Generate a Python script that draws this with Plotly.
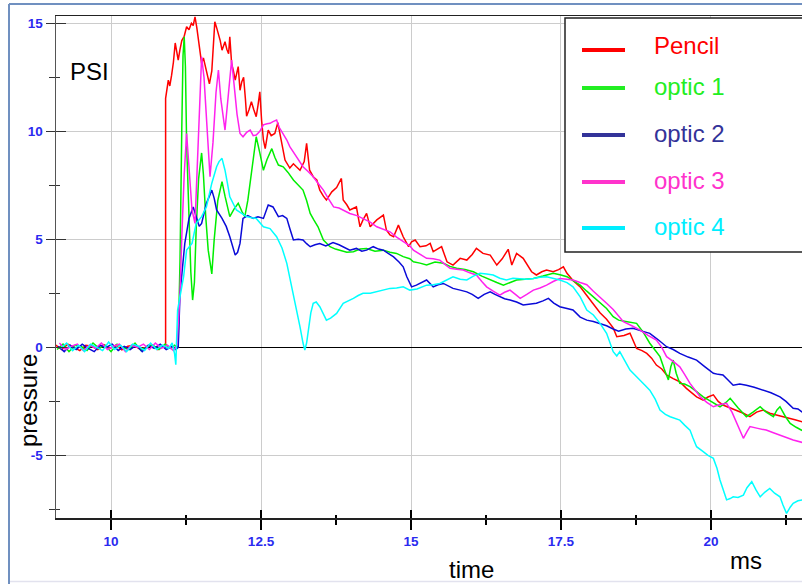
import plotly.graph_objects as go

# ---------------- data ----------------
names = ["Pencil", "optic 1", "optic 2", "optic 3", "optic 4"]
line_colors = ["#ff0000", "#00ee00", "#0a0ad8", "#ff22ee", "#00ffff"]
legend_colors = ["#ff0000", "#22ee22", "#333399", "#ff33cc", "#00eeff"]

x_ticks = [10, 12.5, 15, 17.5, 20]
x_tick_labels = ["10", "12.5", "15", "17.5", "20"]
x_minor = [11.25, 13.75, 16.25, 18.75, 21.25]
y_ticks = [15, 10, 5, 0, -5]
y_tick_labels = ["15", "10", "5", "0", "-5"]
y_minor = [12.5, 7.5, 2.5, -2.5, -7.5]

t_pencil = [9.08, 9.18, 9.28, 9.38, 9.48, 9.58, 9.68, 9.78, 9.88, 9.98, 10.08, 10.18, 10.28, 10.38, 10.48,
            10.58, 10.68, 10.78, 10.88, 10.91,
            10.91, 10.955, 10.98, 11.01, 11.04, 11.07, 11.1, 11.12, 11.15, 11.18, 11.22, 11.26, 11.3, 11.34,
            11.37, 11.40, 11.43, 11.46, 11.51, 11.54, 11.57, 11.6, 11.64, 11.68, 11.71, 11.73, 11.76, 11.79,
            11.82, 11.85, 11.88, 11.90, 11.93, 11.96, 11.98, 12.01, 12.04, 12.07, 12.12, 12.15, 12.18, 12.21,
            12.24, 12.26, 12.3, 12.34, 12.38, 12.42, 12.45, 12.48, 12.51, 12.54, 12.57, 12.62, 12.67, 12.73,
            12.78, 12.84, 12.9, 12.98, 13.04, 13.09, 13.15, 13.22, 13.26, 13.31, 13.37, 13.43, 13.48, 13.54,
            13.59, 13.68, 13.76, 13.84, 13.87, 13.93, 13.98, 14.09, 14.15, 14.2, 14.26, 14.32, 14.43, 14.54,
            14.59, 14.65, 14.71, 14.79, 14.87, 14.96, 15.01, 15.07, 15.15, 15.25, 15.32, 15.37, 15.45, 15.51,
            15.6, 15.7, 15.82, 15.93, 16.02, 16.09, 16.2, 16.32, 16.43, 16.52, 16.62, 16.68, 16.76, 16.87,
            17.01, 17.09, 17.18, 17.26, 17.37, 17.46, 17.54, 17.6, 17.7, 17.82, 17.93, 18.04, 18.15, 18.26,
            18.37, 18.43, 18.55, 18.65, 18.76, 18.85, 18.93, 19.01, 19.09, 19.18, 19.26, 19.37, 19.48, 19.59,
            19.68, 19.76, 19.87, 19.95, 20.04, 20.12, 20.2, 20.32, 20.43, 20.54, 20.65, 20.76, 20.87, 20.98,
            21.09, 21.2, 21.32, 21.4, 21.52]
p_pencil = [0.1, -0.1, 0.15, 0.0, -0.15, 0.1, 0.05, -0.1, 0.12, -0.05, 0.1, -0.12, 0.05, 0.1, -0.08,
            0.0, 0.12, -0.1, 0.05, 0.05,
            11.53, 12.37, 12.1, 12.6, 13.2, 14.09, 13.5, 13.3, 13.8, 14.2, 14.4, 14.84, 14.7, 15.0,
            14.9, 15.3, 14.8, 14.07, 13.15, 13.4, 13.0, 12.7, 12.2, 12.8, 14.2, 15.07, 14.8, 14.5,
            14.2, 13.76, 14.0, 14.15, 13.8, 13.6, 14.38, 13.15, 12.8, 12.37, 13.0, 11.9, 12.3, 12.5,
            11.5, 10.7, 11.0, 11.37, 11.0, 10.68, 11.2, 11.83, 10.5, 9.6, 9.2, 10.06, 9.8, 9.9,
            10.4, 9.6, 8.67, 8.3, 8.5, 8.36, 8.2, 8.6, 9.44, 8.2, 7.9, 7.75, 7.28, 7.0,
            6.82, 7.2, 7.4, 7.82, 6.82, 6.6, 6.36, 6.5, 5.58, 5.9, 6.2, 5.58, 5.9, 6.12,
            5.43, 5.2, 5.12, 5.66, 5.12, 4.66, 4.89, 4.97, 4.66, 4.7, 4.81, 4.43, 4.55, 4.66,
            3.96, 3.81, 4.12, 4.04, 4.3, 4.58, 4.35, 4.27, 3.81, 4.1, 4.54, 3.81, 4.35, 4.12,
            3.5, 3.35, 3.5, 3.58, 3.5, 3.6, 3.73, 3.43, 3.1, 2.8, 2.4, 2.0, 1.6, 1.3,
            0.9, 0.49, 0.55, 0.65, -0.05, -0.15, -0.28, -0.5, -0.82, -1.0, -1.28, -1.45, -1.59, -1.9,
            -2.1, -2.29, -2.44, -2.3, -2.2, -2.5, -2.67, -2.8, -2.9, -3.05, -3.21, -3.0, -2.9, -3.05,
            -3.13, -3.2, -3.29, -3.35, -3.45]

t_optic1 = [9.1, 9.2, 9.3, 9.4, 9.5, 9.6, 9.7, 9.8, 9.9, 10.0, 10.1, 10.2, 10.3, 10.4, 10.5, 10.6, 10.7,
            10.8, 10.9, 11.0, 11.06, 11.1,
            11.12, 11.15, 11.18, 11.2, 11.22, 11.24, 11.26, 11.3, 11.33, 11.36, 11.39, 11.42, 11.46, 11.51,
            11.54, 11.58, 11.62, 11.68, 11.72, 11.78, 11.85, 11.9, 11.98, 12.05, 12.12, 12.18, 12.23, 12.28,
            12.32, 12.37, 12.42, 12.48, 12.54, 12.6, 12.68, 12.73, 12.79, 12.87, 12.95, 13.04, 13.12, 13.2,
            13.26, 13.32, 13.38, 13.45, 13.54, 13.65, 13.74, 13.82, 13.93, 14.04, 14.15, 14.26, 14.4, 14.54,
            14.65, 14.76, 14.87, 14.98, 15.04, 15.15, 15.26, 15.4, 15.54, 15.65, 15.76, 15.9, 16.04, 16.18,
            16.32, 16.43, 16.54, 16.65, 16.76, 16.9, 17.04, 17.2, 17.37, 17.5, 17.6, 17.72, 17.82, 17.93,
            18.04, 18.15, 18.26, 18.37, 18.46, 18.58, 18.67, 18.76, 18.87, 18.98, 19.06, 19.15, 19.22, 19.29,
            19.33, 19.37, 19.42, 19.48, 19.56, 19.65, 19.76, 19.87, 20.0, 20.15, 20.25, 20.32, 20.45, 20.59,
            20.7, 20.82, 20.92, 21.04, 21.1, 21.15, 21.24, 21.32, 21.42, 21.52]
p_optic1 = [-0.1, 0.15, -0.2, 0.1, 0.05, -0.15, 0.2, -0.05, 0.1, -0.2, 0.15, 0.0, -0.1, 0.2, -0.15, 0.05, 0.1,
            -0.1, 0.15, -0.05, 0.1, 0.0,
            0.2, 4.0, 10.2, 13.5, 14.38, 13.0, 9.45, 6.0, 3.5, 2.19, 3.0, 5.5, 7.8, 9.0,
            8.0, 6.0, 4.5, 3.4, 5.0, 6.8, 7.67, 7.0, 6.05, 6.4, 6.67, 6.3, 6.05, 6.8,
            7.6, 8.8, 9.75, 9.0, 8.2, 8.7, 9.2, 8.8, 8.44, 8.36, 8.1, 7.75, 7.5, 7.28,
            6.8, 6.2, 5.9, 5.58, 4.97, 4.66, 4.55, 4.5, 4.4, 4.43, 4.55, 4.58, 4.45, 4.5,
            4.4, 4.35, 4.2, 4.1, 3.96, 3.9, 3.81, 3.95, 3.89, 3.75, 3.66, 3.6, 3.5, 3.3,
            3.12, 3.0, 2.88, 3.0, 3.12, 3.15, 3.19, 3.3, 3.43, 3.35, 3.27, 3.05, 2.88, 2.6,
            2.34, 2.05, 1.8, 1.42, 1.26, 1.2, 1.15, 1.11, 0.7, 0.19, -0.1, -0.43, -1.0, -1.51,
            -0.9, -0.59, -1.2, -1.67, -1.7, -1.82, -2.05, -2.29, -2.5, -2.75, -2.55, -2.36, -2.8, -3.21,
            -3.0, -2.75, -3.0, -3.21, -2.9, -2.75, -3.2, -3.52, -3.7, -3.85]

t_optic2 = [9.12, 9.22, 9.32, 9.42, 9.52, 9.62, 9.72, 9.82, 9.92, 10.02, 10.12, 10.22, 10.32, 10.42, 10.52,
            10.62, 10.72, 10.82, 10.92, 11.02, 11.08, 11.12,
            11.15, 11.19, 11.23, 11.3, 11.37, 11.42, 11.47, 11.51, 11.55, 11.59, 11.64, 11.68, 11.72, 11.76,
            11.85, 11.92, 11.98, 12.03, 12.07, 12.11, 12.15, 12.2, 12.28, 12.37, 12.45, 12.54, 12.58, 12.62,
            12.7, 12.79, 12.86, 12.93, 12.98, 13.04, 13.12, 13.2, 13.26, 13.32, 13.4, 13.48, 13.58, 13.7,
            13.8, 13.87, 13.98, 14.09, 14.18, 14.26, 14.37, 14.46, 14.54, 14.62, 14.71, 14.8, 14.87, 14.93,
            14.98, 15.01, 15.09, 15.18, 15.26, 15.37, 15.45, 15.54, 15.62, 15.7, 15.82, 15.93, 16.02, 16.12,
            16.22, 16.32, 16.4, 16.48, 16.56, 16.65, 16.76, 16.87, 16.98, 17.09, 17.2, 17.29, 17.38, 17.48,
            17.6, 17.7, 17.82, 17.93, 18.04, 18.15, 18.26, 18.37, 18.46, 18.58, 18.7, 18.85, 18.98, 19.12,
            19.26, 19.37, 19.48, 19.62, 19.76, 19.9, 20.04, 20.12, 20.2, 20.28, 20.37, 20.48, 20.59, 20.72,
            20.87, 21.0, 21.15, 21.25, 21.37, 21.45, 21.52]
p_optic2 = [0.05, -0.2, 0.1, -0.1, 0.15, -0.05, -0.2, 0.1, 0.0, 0.15, -0.15, 0.05, -0.1, 0.1, -0.2,
            0.1, -0.05, 0.15, -0.1, 0.05, -0.1, 0.0,
            2.5, 3.8, 4.81, 5.97, 6.5, 6.05, 5.6, 5.74, 6.2, 6.67, 7.0, 7.28, 6.9, 6.36,
            5.97, 5.6, 5.12, 4.6, 4.27, 4.4, 4.81, 5.97, 6.1, 5.97, 6.05, 5.97, 6.3, 6.59,
            6.5, 6.05, 6.1, 5.97, 5.5, 4.97, 5.0, 4.97, 4.8, 4.66, 4.75, 4.81, 4.7, 4.85,
            4.75, 4.66, 4.5, 4.58, 4.45, 4.5, 4.66, 4.55, 4.5, 4.35, 4.19, 3.95, 3.73, 3.27,
            3.0, 2.8, 2.88, 3.0, 3.12, 2.8, 2.9, 2.96, 2.85, 2.73, 2.65, 2.57, 2.45, 2.27,
            2.45, 2.57, 2.45, 2.34, 2.25, 2.19, 2.1, 1.96, 2.0, 2.04, 2.15, 2.27, 2.05, 1.88,
            1.8, 1.73, 1.4, 1.26, 1.2, 1.11, 1.0, 0.85, 0.75, 0.85, 0.88, 0.75, 0.65, 0.35,
            0.03, -0.1, -0.28, -0.45, -0.59, -0.9, -1.2, -1.25, -1.28, -1.5, -1.75, -1.7, -1.75, -1.85,
            -1.98, -2.1, -2.29, -2.5, -2.82, -2.85, -3.0]

t_optic3 = [9.14, 9.24, 9.34, 9.44, 9.54, 9.64, 9.74, 9.84, 9.94, 10.04, 10.14, 10.24, 10.34, 10.44, 10.54,
            10.64, 10.74, 10.84, 10.94, 11.04, 11.1,
            11.15, 11.18, 11.22, 11.26, 11.3, 11.35, 11.4, 11.44, 11.48, 11.51, 11.55, 11.6, 11.65, 11.7,
            11.75, 11.79, 11.83, 11.9, 11.95, 12.01, 12.05, 12.1, 12.15, 12.2, 12.26, 12.32, 12.37, 12.42,
            12.48, 12.54, 12.6, 12.65, 12.7, 12.76, 12.8, 12.87, 12.93, 12.98, 13.04, 13.09, 13.15, 13.2,
            13.28, 13.37, 13.45, 13.54, 13.62, 13.71, 13.8, 13.87, 13.98, 14.1, 14.2, 14.32, 14.43, 14.54,
            14.65, 14.76, 14.87, 14.98, 15.04, 15.15, 15.26, 15.37, 15.48, 15.56, 15.65, 15.76, 15.87, 15.98,
            16.09, 16.18, 16.26, 16.37, 16.48, 16.56, 16.65, 16.74, 16.82, 16.93, 17.04, 17.15, 17.26, 17.37,
            17.48, 17.6, 17.7, 17.82, 17.93, 18.04, 18.15, 18.26, 18.37, 18.46, 18.54, 18.68, 18.82, 18.95,
            19.09, 19.18, 19.26, 19.37, 19.48, 19.56, 19.65, 19.74, 19.82, 19.93, 20.04, 20.15, 20.26, 20.35,
            20.43, 20.5, 20.54, 20.6, 20.65, 20.78, 20.92, 21.04, 21.15, 21.26, 21.37, 21.52]
p_optic3 = [0.2, -0.1, 0.05, 0.15, -0.15, 0.1, -0.05, 0.2, -0.1, 0.05, 0.15, -0.2, 0.1, 0.0, 0.15,
            -0.1, 0.2, -0.05, 0.1, -0.15, 0.1,
            2.5, 5.12, 8.0, 9.9, 8.5, 6.36, 5.74, 8.5, 12.0, 13.45, 12.5, 10.0, 7.9, 9.5,
            11.8, 12.84, 11.5, 10.06, 11.5, 13.3, 12.2, 10.8, 9.9, 9.75, 9.95, 10.06, 9.8, 9.83,
            10.0, 10.3, 10.35, 10.37, 10.45, 10.52, 10.2, 9.9, 9.6, 9.29, 9.05, 8.82, 8.6, 8.36,
            8.15, 7.9, 7.6, 7.28, 6.9, 6.5, 6.45, 6.36, 6.2, 6.1, 5.97, 5.8, 5.58, 5.45,
            5.35, 5.1, 4.89, 4.7, 4.5, 4.3, 4.12, 4.1, 4.04, 3.85, 3.66, 3.62, 3.58, 3.45,
            3.35, 3.05, 2.8, 2.6, 2.42, 2.55, 2.65, 2.45, 2.27, 2.45, 2.65, 2.75, 2.88, 3.05,
            3.19, 3.15, 3.12, 3.0, 2.9, 2.6, 2.34, 2.04, 1.75, 1.45, 1.19, 1.0, 0.8, 0.55,
            0.34, 0.0, -0.43, -0.65, -0.9, -1.25, -1.67, -2.0, -2.29, -2.55, -2.75, -2.65, -2.59, -3.0,
            -3.52, -3.9, -4.21, -3.9, -3.67, -3.75, -3.83, -3.95, -4.06, -4.15, -4.29, -4.4]

t_optic4 = [9.16, 9.26, 9.36, 9.46, 9.56, 9.66, 9.76, 9.86, 9.96, 10.06, 10.16, 10.26, 10.36, 10.46, 10.56,
            10.66, 10.76, 10.86, 10.96, 11.02, 11.06, 11.08,
            11.11, 11.16, 11.21, 11.26, 11.35, 11.42, 11.51, 11.59, 11.68, 11.76, 11.8, 11.85, 11.9, 11.94,
            11.98, 12.09, 12.18, 12.26, 12.34, 12.42, 12.54, 12.65, 12.76, 12.85, 12.93, 13.04, 13.15, 13.2,
            13.23, 13.26, 13.29, 13.33, 13.37, 13.42, 13.48, 13.54, 13.59, 13.66, 13.76, 13.87, 13.96, 14.04,
            14.12, 14.2, 14.32, 14.43, 14.54, 14.65, 14.76, 14.87, 14.98, 15.1, 15.26, 15.37, 15.48, 15.6,
            15.7, 15.82, 15.93, 16.04, 16.15, 16.26, 16.37, 16.48, 16.59, 16.7, 16.82, 16.93, 17.04, 17.15,
            17.26, 17.37, 17.48, 17.6, 17.7, 17.82, 17.93, 18.04, 18.15, 18.26, 18.37, 18.43, 18.48, 18.56,
            18.65, 18.74, 18.82, 18.9, 18.98, 19.07, 19.15, 19.24, 19.32, 19.4, 19.48, 19.56, 19.65, 19.7,
            19.76, 19.87, 19.95, 20.04, 20.1, 20.15, 20.2, 20.26, 20.32, 20.37, 20.45, 20.54, 20.6, 20.68,
            20.75, 20.82, 20.9, 20.98, 21.06, 21.15, 21.2, 21.26, 21.32, 21.37, 21.45, 21.52]
p_optic4 = [-0.05, 0.2, -0.15, 0.1, -0.2, 0.15, 0.0, -0.15, 0.25, -0.1, 0.1, -0.2, 0.15, 0.05, -0.15,
            0.2, -0.1, 0.1, -0.05, 0.2, -0.3, -0.8,
            1.73, 2.5, 3.27, 4.5, 4.81, 5.74, 6.05, 6.5, 7.6, 8.36, 8.6, 8.75, 8.2, 7.6,
            6.97, 6.36, 6.2, 6.05, 6.0, 5.97, 5.58, 5.5, 5.12, 4.6, 3.89, 2.5, 0.95, 0.2,
            -0.12, 0.2, 0.8, 1.6, 2.04, 2.1, 1.88, 1.5, 1.26, 1.35, 1.57, 2.04, 2.15, 2.27,
            2.4, 2.5, 2.5, 2.57, 2.65, 2.73, 2.75, 2.8, 2.65, 2.7, 2.88, 2.9, 2.96, 3.15,
            3.27, 3.15, 3.12, 3.3, 3.43, 3.4, 3.35, 3.2, 3.12, 3.2, 3.19, 3.15, 3.19, 3.25,
            3.27, 3.2, 3.12, 3.0, 2.8, 2.34, 1.73, 1.5, 1.11, 0.65, -0.2, -0.4, -0.2, -0.6,
            -1.05, -1.3, -1.51, -1.75, -1.98, -2.4, -2.9, -3.1, -3.21, -3.3, -3.37, -3.6, -3.83, -4.2,
            -4.6, -4.83, -5.0, -5.14, -5.6, -6.14, -6.6, -7.06, -7.0, -6.92, -6.95, -6.84, -6.5, -6.22,
            -6.6, -6.92, -6.7, -6.53, -6.75, -6.92, -7.3, -7.69, -7.4, -7.22, -7.1, -7.06]

series_t = [t_pencil, t_optic1, t_optic2, t_optic3, t_optic4]
series_p = [p_pencil, p_optic1, p_optic2, p_optic3, p_optic4]

# ---------------- layout helpers ----------------
# The page's 8 px body margin is removed by a small post script, so the figure
# fills the whole 802x584 window and positions are plain window pixels.
FIG_W, FIG_H = 802, 584
L, R, T, B = 56, 802, 16, 518


def px(x):
    return (x - L) / (R - L)


def py(y):
    return (B - y) / (B - T)


fig = go.Figure()
for t, p, n, c in zip(series_t, series_p, names, line_colors):
    fig.add_trace(go.Scatter(x=t, y=p, mode="lines", name=n,
                             line=dict(color=c, width=1.5), showlegend=False))
# empty trace that creates the overlay axes carrying the inner tick marks
fig.add_trace(go.Scatter(x=[], y=[], xaxis="x2", yaxis="y2", showlegend=False, hoverinfo="skip"))

x_range = [9.083, 21.517]
y_range = [-7.90, 15.34]
tick_font = dict(family="Liberation Sans", size=13.5, color="#2a2af0", weight="bold")

fig.update_layout(
    width=FIG_W, height=FIG_H,
    margin=dict(l=L, r=FIG_W - R, t=T, b=FIG_H - B, pad=0),
    paper_bgcolor="white", plot_bgcolor="white",
    showlegend=False,
    xaxis=dict(range=x_range, tickmode="array", tickvals=x_ticks, ticktext=x_tick_labels,
               ticks="outside", ticklen=10, tickwidth=1.3, tickcolor="black",
               showline=True, linecolor="#222222", linewidth=1.5, mirror=True,
               showgrid=True, gridcolor="#cccccc", gridwidth=1, zeroline=False,
               tickfont=tick_font,
               minor=dict(tickvals=x_minor, ticks="outside", ticklen=5, tickwidth=1.3,
                          tickcolor="black", showgrid=False)),
    xaxis2=dict(overlaying="x", anchor="y", range=x_range, tickmode="array", tickvals=x_ticks,
                ticks="inside", ticklen=8, tickwidth=1.3, tickcolor="black",
                showticklabels=False, showgrid=False, showline=False, zeroline=False,
                minor=dict(tickvals=x_minor, ticks="inside", ticklen=3, tickwidth=1.3,
                           tickcolor="black", showgrid=False)),
    yaxis=dict(range=y_range, tickmode="array", tickvals=y_ticks, ticktext=y_tick_labels,
               ticks="outside", ticklen=9, tickwidth=1.3, tickcolor="#333333",
               showline=True, linecolor="#555555", linewidth=1.5, mirror=False,
               showgrid=True, gridcolor="#cccccc", gridwidth=1,
               zeroline=True, zerolinecolor="black", zerolinewidth=1.3,
               tickfont=tick_font,
               minor=dict(tickvals=y_minor, ticks="outside", ticklen=6, tickwidth=1.3,
                          tickcolor="#333333", showgrid=False)),
    yaxis2=dict(overlaying="y", anchor="x", range=y_range, tickmode="array", tickvals=y_ticks,
                ticks="inside", ticklen=10, tickwidth=1.3, tickcolor="#333333",
                showticklabels=False, showgrid=False, showline=False, zeroline=False,
                minor=dict(tickvals=y_minor, ticks="inside", ticklen=4, tickwidth=1.3,
                           tickcolor="#333333", showgrid=False)),
)

shapes = []
# outer frame of the original picture
shapes.append(dict(type="line", xref="paper", yref="paper", x0=px(9), x1=px(9), y0=py(4), y1=py(590),
                   line=dict(color="#7090c0", width=2)))
shapes.append(dict(type="line", xref="paper", yref="paper", x0=px(9), x1=px(810), y0=py(4), y1=py(4),
                   line=dict(color="#7090c0", width=2)))
shapes.append(dict(type="line", xref="paper", yref="paper", x0=px(10), x1=px(810), y0=py(581.5), y1=py(581.5),
                   line=dict(color="#e2e2ee", width=1.5)))
# legend box
shapes.append(dict(type="rect", xref="paper", yref="paper", x0=px(565), x1=px(840), y0=py(252), y1=py(18),
                   line=dict(color="#222222", width=1.5), fillcolor="white", layer="above"))
legend_line_y = [50, 88, 135, 182, 228]
legend_text_y = [46, 87, 133, 180, 227]
annotations = []
for n, c, ly, ty in zip(names, legend_colors, legend_line_y, legend_text_y):
    shapes.append(dict(type="line", xref="paper", yref="paper", x0=px(582), x1=px(625),
                       y0=py(ly), y1=py(ly), line=dict(color=c, width=4), layer="above"))
    annotations.append(dict(xref="paper", yref="paper", x=px(652), y=py(ty), xanchor="left",
                            yanchor="middle", text=n, showarrow=False,
                            font=dict(family="Liberation Sans", size=24, color=c)))

label_font = dict(family="Liberation Sans", size=24, color="black")
annotations.append(dict(xref="paper", yref="paper", x=px(68), y=py(71), xanchor="left", yanchor="middle",
                        text="PSI", showarrow=False, font=label_font))
annotations.append(dict(xref="paper", yref="paper", x=px(28), y=py(401), xanchor="center", yanchor="middle",
                        text="pressure", textangle=-90, showarrow=False, font=label_font))
annotations.append(dict(xref="paper", yref="paper", x=px(471), y=py(569), xanchor="center", yanchor="middle",
                        text="time", showarrow=False, font=label_font))
annotations.append(dict(xref="paper", yref="paper", x=px(746), y=py(560), xanchor="center", yanchor="middle",
                        text="ms", showarrow=False, font=label_font))

fig.update_layout(shapes=shapes, annotations=annotations)

page_css = ("document.documentElement.style.margin='0';document.documentElement.style.overflow='hidden';"
            "document.body.style.margin='0';document.body.style.padding='0';document.body.style.overflow='hidden';")
fig.write_html("out.html", post_script=page_css,
               config={"displayModeBar": False, "staticPlot": True})
